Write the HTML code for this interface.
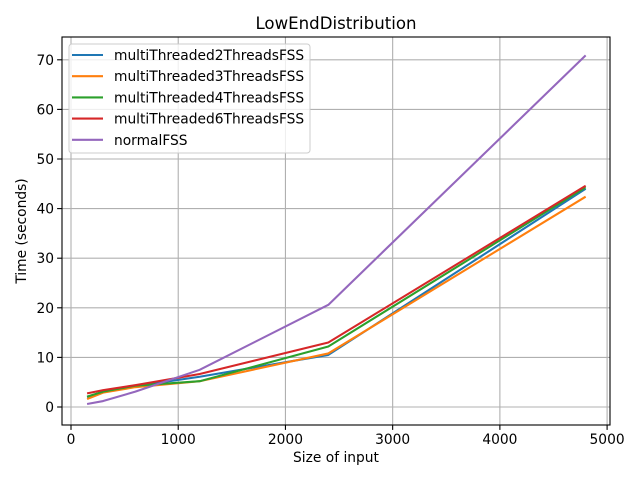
<!DOCTYPE html>
<html><head><meta charset="utf-8"><style>
body{margin:0;background:#fff;font-family:"Liberation Sans","DejaVu Sans",sans-serif}
svg text{font-family:"DejaVu Sans","Liberation Sans",sans-serif}
</style></head><body>
<svg id="c" width="640" height="480"></svg>
<script>
const sizes=[150,300,600,1200,2400,4800];
const s2=[2.0,3.0,4.2,6.1,10.5,44.0];
const s3=[1.6,2.9,4.0,5.2,10.8,42.4];
const s4=[2.1,3.1,4.3,5.2,12.2,44.3];
const s6=[2.75,3.4,4.4,6.65,13.0,44.6];
const sN=[0.6,1.2,3.1,7.5,20.6,70.9];
const names=["multiThreaded2ThreadsFSS","multiThreaded3ThreadsFSS","multiThreaded4ThreadsFSS","multiThreaded6ThreadsFSS","normalFSS"];
const colors=["#1f77b4","#ff7f0e","#2ca02c","#d62728","#9467bd"];
const xTicks=[0,1000,2000,3000,4000,5000];
const yTicks=[0,10,20,30,40,50,60,70];
const L=62,R=610,T=37,B=425;
const X=v=>71+v*0.10722, Y=v=>407-v*4.96;
const svg=document.getElementById('c');const NS="http://www.w3.org/2000/svg";
function mk(t,a,p){const e=document.createElementNS(NS,t);for(const k in a)e.setAttribute(k,a[k]);(p||svg).appendChild(e);return e;}
for(const t of xTicks){const g=mk('line',{x1:X(t),x2:X(t),y1:T,y2:B,stroke:'#b0b0b0','stroke-width':1.1});

mk('line',{x1:X(t),x2:X(t),y1:B,y2:B+4.9,stroke:'#000','stroke-width':1.1});
const tx=mk('text',{x:X(t),y:B+19,'font-size':13.8,'text-anchor':'middle'});tx.textContent=t;
}
for(const t of yTicks){const g=mk('line',{x1:L,x2:R,y1:Y(t),y2:Y(t),stroke:'#b0b0b0','stroke-width':1.1});

mk('line',{x1:L-4.9,x2:L,y1:Y(t),y2:Y(t),stroke:'#000','stroke-width':1.1});
const tx=mk('text',{x:L-8,y:Y(t)+5,'font-size':13.8,'text-anchor':'end'});tx.textContent=t;
}
const series=[s2,s3,s4,s6,sN];
series.forEach((s,i)=>{const p=mk('polyline',{points:s.map((v,j)=>X(sizes[j])+','+Y(v)).join(' '),fill:'none',stroke:colors[i],'stroke-width':2.08,'stroke-linejoin':'round'});
});
const fr=mk('rect',{x:L,y:T,width:R-L,height:B-T,fill:'none',stroke:'#000','stroke-width':1.1});

const tt=mk('text',{x:336,y:29,'font-size':16.6,'text-anchor':'middle'});tt.textContent='LowEndDistribution';

const xl=mk('text',{x:336,y:462,'font-size':13.8,'text-anchor':'middle'});xl.textContent='Size of input';

const yl=mk('text',{x:26,y:231,'font-size':13.8,'text-anchor':'middle',transform:'rotate(-90 26 231)'});yl.textContent='Time (seconds)';

const lg=mk('rect',{x:69,y:44,width:241,height:109,rx:3,fill:'#fff','fill-opacity':0.8,stroke:'#ccc'});

names.forEach((n,i)=>{const y=55+i*21.2;
mk('line',{x1:72,x2:103,y1:y,y2:y,stroke:colors[i],'stroke-width':2.08});
const t=mk('text',{x:114,y:y+5,'font-size':13.8});t.textContent=n;
});
</script>
</body></html>
